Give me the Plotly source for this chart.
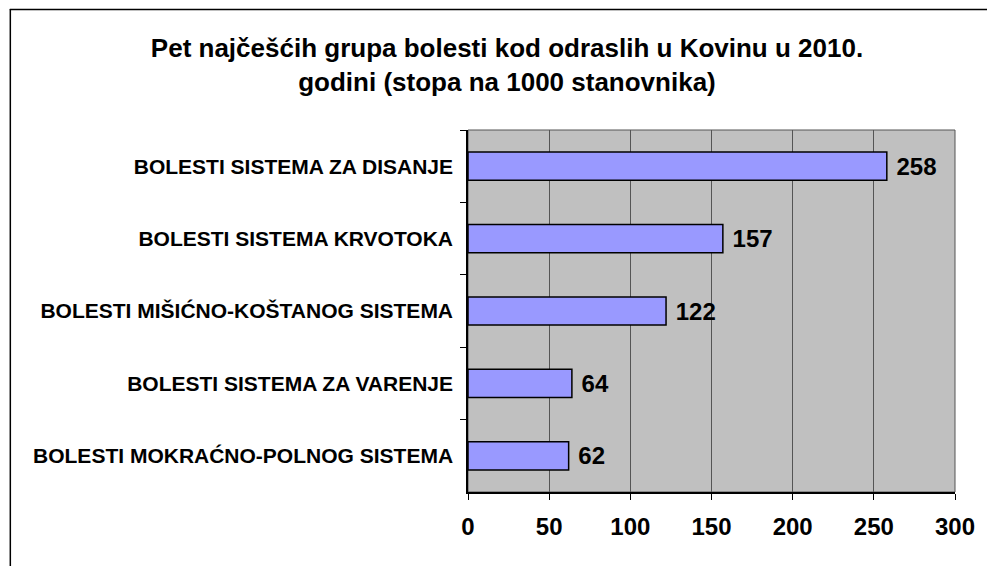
import plotly.graph_objects as go

categories = [
    "BOLESTI SISTEMA ZA DISANJE",
    "BOLESTI SISTEMA KRVOTOKA",
    "BOLESTI MIŠIĆNO-KOŠTANOG SISTEMA",
    "BOLESTI SISTEMA ZA VARENJE",
    "BOLESTI MOKRAĆNO-POLNOG SISTEMA",
]
values = [258, 157, 122, 64, 62]
x_ticks = [0, 50, 100, 150, 200, 250, 300]
title_text = "Pet najčešćih grupa bolesti kod odraslih u Kovinu u 2010.<br>godini (stopa na 1000 stanovnika)"

W, H = 987, 566
L, R, T, B = 468, 29, 130, 74
pw, ph = W - L - R, H - T - B

font_family = "Liberation Sans, Arial, sans-serif"

fig = go.Figure(go.Bar(
    x=values,
    y=categories,
    orientation="h",
    marker=dict(color="#9999FF", line=dict(color="#000000", width=1.5)),
    texttemplate=" %{x}",
    textposition="outside",
    textfont=dict(family=font_family, size=24, color="#000000", weight="bold"),
    cliponaxis=False,
    width=0.39,
))

def px_to_paper_x(px):
    return (px - L) / pw

def px_to_paper_y(py):
    return (H - B - py) / ph

fig.update_layout(
    width=W, height=H,
    margin=dict(l=L, r=R, t=T, b=B, pad=0),
    paper_bgcolor="#FFFFFF",
    plot_bgcolor="#C0C0C0",
    showlegend=False,
    title=dict(
        text=title_text,
        x=507 / W, xanchor="center", xref="container",
        y=1 - 57 / H, yanchor="top", yref="container",
        font=dict(family=font_family, size=26, color="#000000", weight="bold"),
    ),
    xaxis=dict(
        range=[0, 300],
        tickvals=x_ticks,
        ticktext=[str(t) for t in x_ticks],
        showgrid=True, gridcolor="#555555", gridwidth=1,
        zeroline=False,
        showline=True, linecolor="#000000", linewidth=1.5,
        ticks="outside", ticklen=6, tickcolor="#000000", tickwidth=1,
        tickfont=dict(family=font_family, size=24, color="#000000", weight="bold"),
        ticklabelstandoff=6,
        fixedrange=True,
    ),
    yaxis=dict(
        categoryorder="array", categoryarray=categories,
        autorange="reversed",
        showgrid=False, zeroline=False,
        showline=True, linecolor="#000000", linewidth=1.5,
        ticks="outside", tickson="boundaries", ticklen=6, tickcolor="#000000",
        tickfont=dict(family=font_family, size=21, color="#000000", weight="bold"),
        ticklabelstandoff=9,
        fixedrange=True,
    ),
    shapes=[
        dict(type="rect", xref="paper", yref="paper", x0=0, x1=1, y0=0, y1=1,
             line=dict(color="#555555", width=1), layer="below"),
        dict(type="line", xref="paper", yref="paper",
             x0=px_to_paper_x(7), x1=px_to_paper_x(W + 5),
             y0=px_to_paper_y(9.5), y1=px_to_paper_y(9.5),
             line=dict(color="#000000", width=1.5), layer="above"),
        dict(type="line", xref="paper", yref="paper",
             x0=px_to_paper_x(7.5), x1=px_to_paper_x(7.5),
             y0=px_to_paper_y(9), y1=px_to_paper_y(H + 5),
             line=dict(color="#000000", width=1.5), layer="above"),
    ],
)

fig.write_html(
    "out.html",
    config={"displayModeBar": False},
    post_script="document.body.style.margin='0';document.body.style.overflow='hidden';",
)
